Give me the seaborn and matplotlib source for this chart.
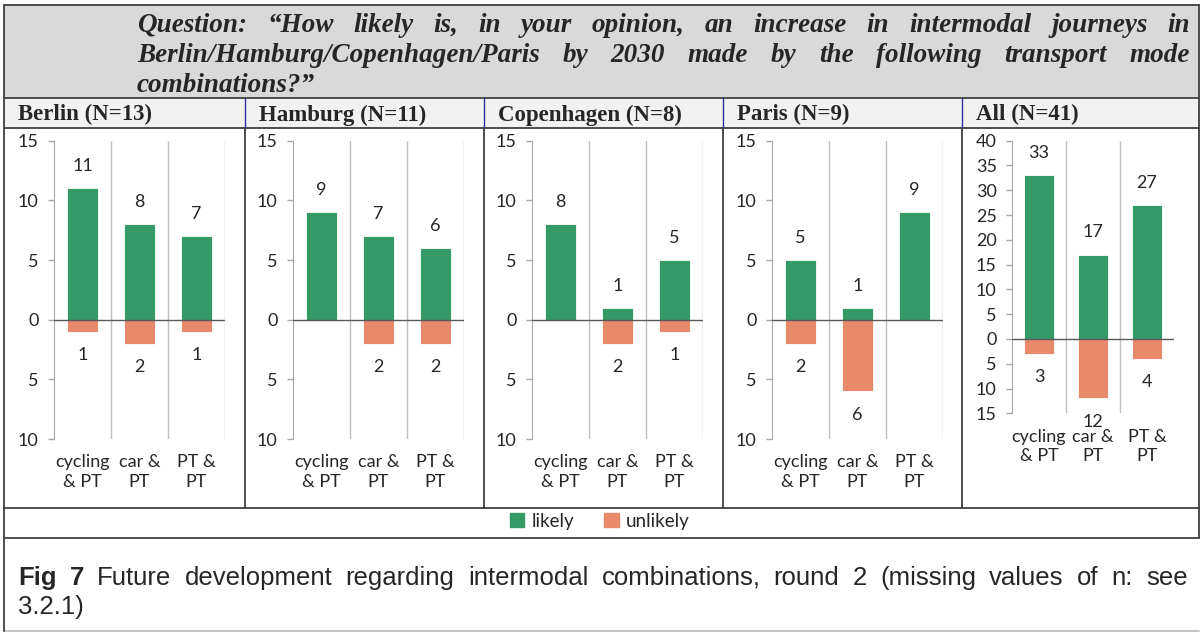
import matplotlib.pyplot as plt
import matplotlib.transforms as mtransforms
from matplotlib.patches import Rectangle, Patch
from matplotlib.lines import Line2D
from matplotlib.ticker import FuncFormatter
import seaborn as sns
import pandas as pd

W, H = 1202, 633

# data
modes = ["cycling\n& PT", "car &\nPT", "PT &\nPT"]
cities = ["Berlin (N=13)", "Hamburg (N=11)", "Copenhagen (N=8)", "Paris (N=9)", "All (N=41)"]
likely = [[11, 8, 7], [9, 7, 6], [8, 1, 5], [5, 1, 9], [33, 17, 27]]
unlikely = [[1, 2, 1], [0, 2, 2], [0, 2, 1], [2, 6, 0], [3, 12, 4]]

question = ["Question: \u201cHow likely is, in your opinion, an increase in intermodal journeys in",
            "Berlin/Hamburg/Copenhagen/Paris by 2030 made by the following transport mode",
            "combinations?\u201d"]
caption_bold = "Fig 7"
caption = ["Future development regarding intermodal combinations, round 2 (missing values of n: see",
           "3.2.1)"]

GREEN = "#339966"
ORANGE = "#E8896B"
LINE = "#404040"
TXT = "#262626"

sns.set_style("white")
plt.rcParams['font.family'] = ['Lato', 'DejaVu Sans']

fig = plt.figure(figsize=(W / 100, H / 100), dpi=100)
# pixel coordinates measured from the top-left corner
px = mtransforms.Affine2D().scale(1 / W, -1 / H).translate(0, 1) + fig.transFigure


def hline(y, x0=4, x1=1199, color=LINE, lw=1.3):
    fig.add_artist(Line2D([x0, x1], [y, y], transform=px, color=color, lw=lw))


def vline(x, y0, y1, color=LINE, lw=1.3):
    fig.add_artist(Line2D([x, x], [y0, y1], transform=px, color=color, lw=lw))


def justify(words, x0, x1, y, styles):
    """place words on one line so that it fills x0..x1"""
    r = fig.canvas.get_renderer()
    texts = [fig.text(0, y, w, transform=px, va='baseline', **s) for w, s in zip(words, styles)]
    widths = [t.get_window_extent(r).width for t in texts]
    gap = (x1 - x0 - sum(widths)) / max(len(texts) - 1, 1)
    x = x0
    for t, w in zip(texts, widths):
        t.set_x(x)
        x += w + gap


# table frame
fig.add_artist(Rectangle((4, 5), 1195, 93, transform=px, facecolor='#d9d9d9', edgecolor='none'))
fig.add_artist(Rectangle((4, 98), 1195, 30, transform=px, facecolor='#f2f2f2', edgecolor='none'))
hline(5)
hline(98)
hline(128)
hline(508)
hline(538)
hline(631, color='#bfbfbf')
vline(4, 5, 631)
vline(1199, 5, 538)
panel_left = [4, 245, 484, 723, 962]
for x in panel_left[1:]:
    vline(x, 98, 128, color='#2f2f9f', lw=1.0)
    vline(x, 128, 508)

# question text
q_style = dict(family='Liberation Serif', weight='bold', style='italic', fontsize=19.5)
for i, line in enumerate(question):
    words = line.split()
    y = [32, 62, 91.5][i]
    if i < 2:
        justify(words, 137, 1190, y, [q_style] * len(words))
    else:
        fig.text(137, y, line, transform=px, va='baseline', **q_style)

# panel titles
for x, name in zip(panel_left, cities):
    fig.text(x + 14, 120.5, name, transform=px, va='baseline',
             family='Liberation Serif', weight='bold', fontsize=16.5)

# caption
c_norm = dict(family='Liberation Sans', fontsize=18.5)
c_bold = dict(family='Liberation Sans', fontsize=18.5, weight='bold')
bw = caption_bold.split()
cw = caption[0].split()
justify(bw + cw, 18, 1188, 585, [c_bold] * len(bw) + [c_norm] * len(cw))
fig.text(18, 614, caption[1], transform=px, va='baseline', **c_norm)

# panels
spine_x = [54, 293, 532, 772, 1012]
widths = [171, 171, 171, 171, 162]
ylims = [(-10, 15)] * 4 + [(-15, 40)]
bottoms = [439, 439, 439, 439, 413.3]
top = 140.7
FS = 13

for i in range(5):
    l, w, b = spine_x[i], widths[i], bottoms[i]
    ax = fig.add_axes([l / W, 1 - b / H, w / W, (b - top) / H])
    df = pd.DataFrame({'mode': modes, 'likely': likely[i],
                       'unlikely': [-v for v in unlikely[i]]})
    sns.barplot(data=df, x='mode', y='likely', color=GREEN, saturation=1,
                width=0.56, edgecolor='white', linewidth=0.6, ax=ax)
    sns.barplot(data=df, x='mode', y='unlikely', color=ORANGE, saturation=1,
                width=0.56, edgecolor='white', linewidth=0.6, ax=ax)
    ax.set_facecolor('none')
    ax.set_xlim(-0.5, 2.5)
    ax.set_ylim(*ylims[i])
    ax.set_yticks(range(ylims[i][0], ylims[i][1] + 1, 5))
    ax.yaxis.set_major_formatter(FuncFormatter(lambda v, p: f"{abs(int(v))}"))
    ax.set_xticks(range(3))
    ax.set_xticklabels(modes, linespacing=1.3)
    ax.set_xlabel('')
    ax.set_ylabel('')
    for s in ['top', 'right', 'bottom']:
        ax.spines[s].set_visible(False)
    ax.spines['left'].set_color('#a6a6a6')
    ax.tick_params(axis='x', length=0, pad=11, labelsize=FS, labelcolor=TXT)
    ax.tick_params(axis='y', length=4, color='#a6a6a6', width=1, pad=7,
                   labelsize=FS, labelcolor=TXT, left=True)
    seps = [0.5, 1.5, 2.5] if i < 4 else [0.5, 1.5]
    for s in seps:
        ax.axvline(s, color='#bfbfbf', lw=1, zorder=0)
    ax.axhline(0, color='#595959', lw=1, zorder=3)
    for j in range(3):
        if likely[i][j]:
            ax.annotate(str(likely[i][j]), (j, likely[i][j]), xytext=(0, 16),
                        textcoords='offset points', ha='center', va='center',
                        fontsize=FS, color=TXT)
        if unlikely[i][j]:
            ax.annotate(str(unlikely[i][j]), (j, -unlikely[i][j]), xytext=(0, -17),
                        textcoords='offset points', ha='center', va='center',
                        fontsize=FS, color=TXT)

fig.legend(handles=[Patch(color=GREEN, label='likely'), Patch(color=ORANGE, label='unlikely')],
           loc='center', bbox_to_anchor=(600 / W, 1 - 521 / H), ncol=2, frameon=False,
           fontsize=13.5, handlelength=0.75, handleheight=0.75, handletextpad=0.4,
           columnspacing=1.6, labelcolor=TXT)

fig.savefig('out.png', dpi=100, facecolor='white')
